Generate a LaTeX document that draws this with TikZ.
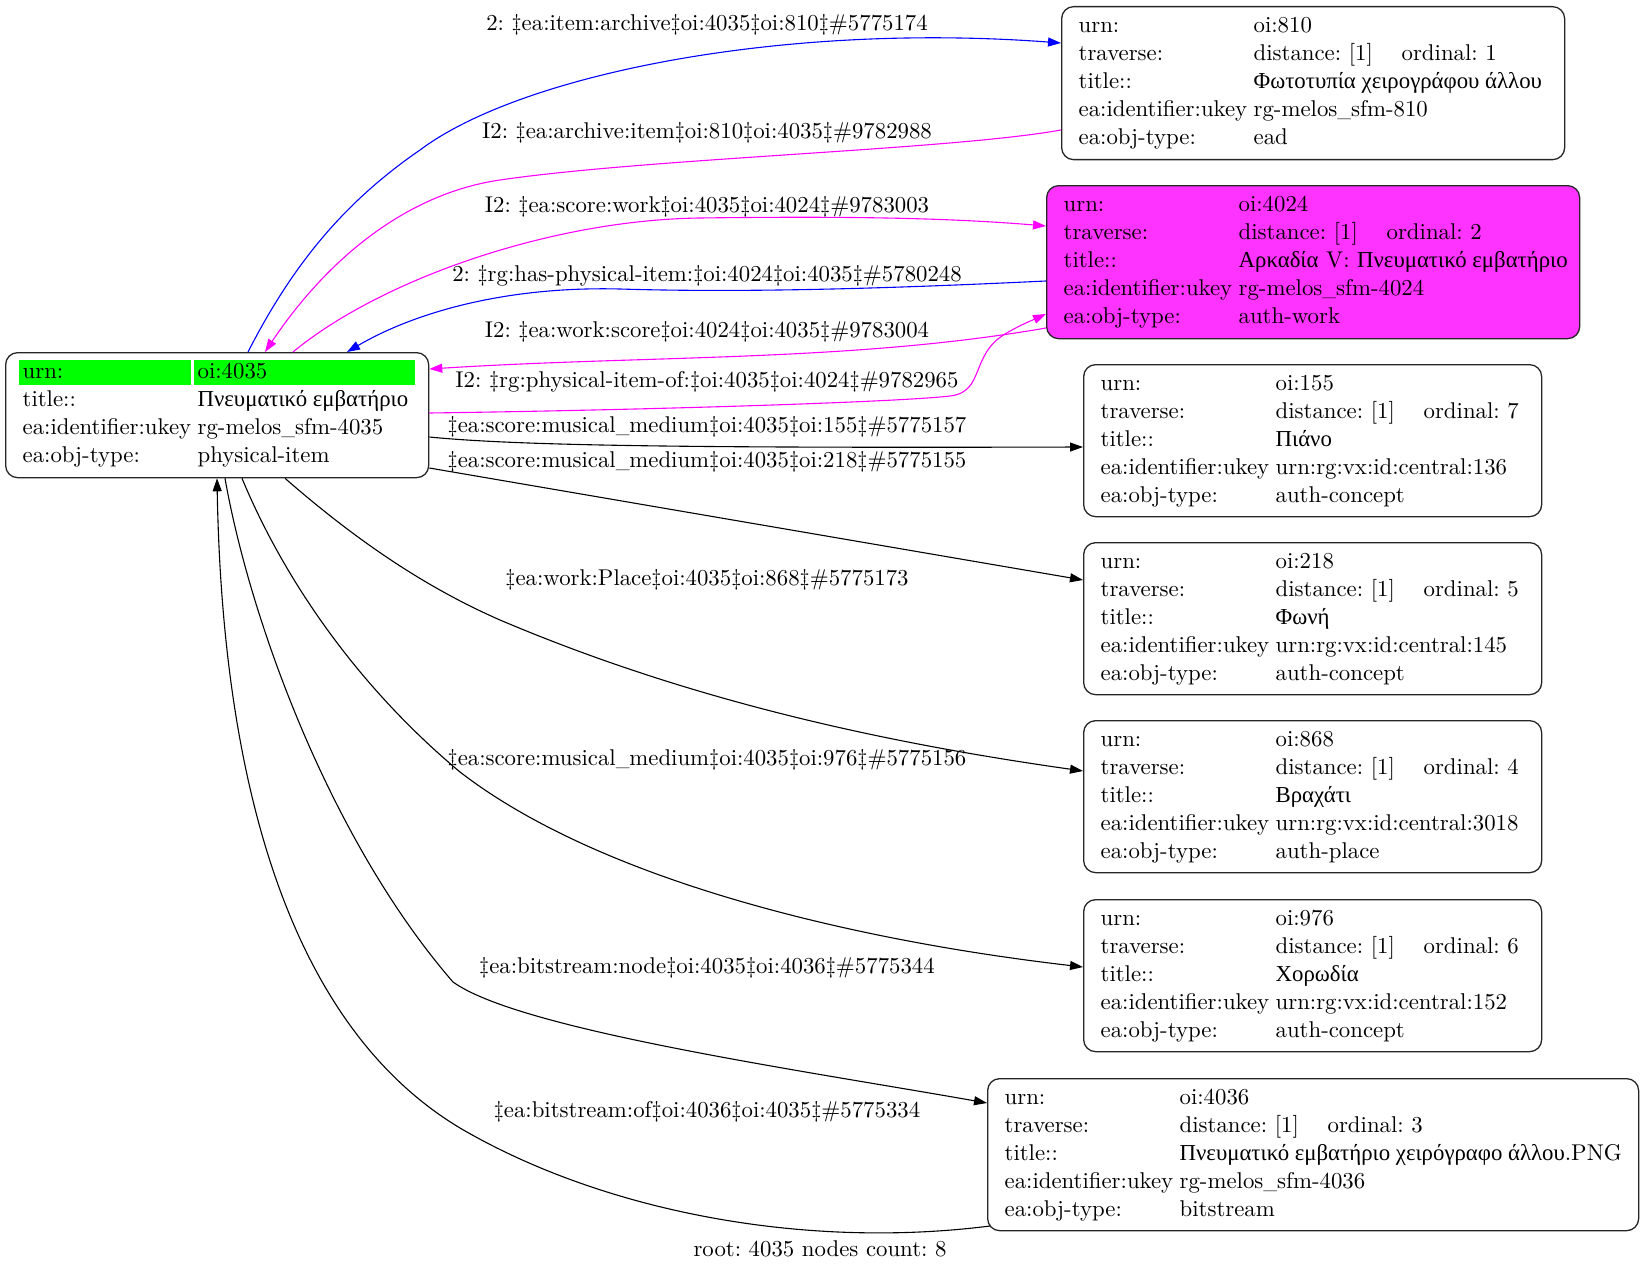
\documentclass[tikz,border=0pt]{standalone}
\usepackage{fontspec}
\usepackage{graphicx}
\setmainfont{lmroman10-regular}[Extension=.otf]
\newfontfamily\grfont{Liberation Serif}
\usetikzlibrary{arrows.meta}
\definecolor{mag}{RGB}{255,0,255}
\definecolor{magfill}{RGB}{255,51,255}
\definecolor{blu}{RGB}{0,0,255}
\definecolor{grn}{RGB}{0,255,0}
\newcommand\gr[1]{{\grfont #1}}
\newcommand\us{\scalebox{0.8}[1]{\_}}
\newcommand\kv[2]{\makebox[175pt][l]{#1}#2\\}
\newcommand\trav[1]{\makebox[175pt][l]{traverse:}\makebox[148pt][l]{distance: [1]}ordinal: #1\\}
\newcommand\dd{‡}
\tikzset{
  box/.style={draw=black!85, line width=1.3pt, rounded corners=12pt, inner sep=0pt, anchor=north west,
    font=\fontsize{22.8}{28}\selectfont\frenchspacing},
  elabel/.style={inner sep=0pt, font=\fontsize{22.8}{28}\selectfont\frenchspacing},
  conn/.style={line width=1.1pt, -{Triangle[length=13pt,width=9pt]}},
}
\begin{document}
\begin{tikzpicture}[x=1pt,y=-1pt]
\useasboundingbox (0,0) rectangle (1644,1271);
% highlight of the root's first row
\fill[grn] (19,360) rectangle (191,385);
\fill[grn] (194,360) rectangle (415,385);
% nodes
\node[box, minimum width=423pt, minimum height=125pt] (root) at (5,352)
 {\makebox[389pt][l]{\begin{tabular}{@{}l@{}}
 \kv{urn:}{oi:4035}
 \kv{title::}{\gr{Πνευματικό εμβατήριο}}
 \kv{ea:identifier:ukey}{rg-melos\us sfm-4035}
 \kv{ea:obj-type:}{physical-item}
 \end{tabular}}};
\node[box, minimum width=503pt, minimum height=153pt] (n810) at (1061,6)
 {\makebox[469pt][l]{\begin{tabular}{@{}l@{}}
 \kv{urn:}{oi:810}
 \trav{1}
 \kv{title::}{\gr{Φωτοτυπία χειρογράφου άλλου}}
 \kv{ea:identifier:ukey}{rg-melos\us sfm-810}
 \kv{ea:obj-type:}{ead}
 \end{tabular}}};
\node[box, fill=magfill, minimum width=533pt, minimum height=153pt] (n4024) at (1046,185)
 {\makebox[499pt][l]{\begin{tabular}{@{}l@{}}
 \kv{urn:}{oi:4024}
 \trav{2}
 \kv{title::}{\gr{Αρκαδία} V: \gr{Πνευματικό εμβατήριο}}
 \kv{ea:identifier:ukey}{rg-melos\us sfm-4024}
 \kv{ea:obj-type:}{auth-work}
 \end{tabular}}};
\node[box, minimum width=458pt, minimum height=152pt] (n155) at (1083,364)
 {\makebox[424pt][l]{\begin{tabular}{@{}l@{}}
 \kv{urn:}{oi:155}
 \trav{7}
 \kv{title::}{\gr{Πιάνο}}
 \kv{ea:identifier:ukey}{urn:rg:vx:id:central:136}
 \kv{ea:obj-type:}{auth-concept}
 \end{tabular}}};
\node[box, minimum width=458pt, minimum height=152pt] (n218) at (1083,542)
 {\makebox[424pt][l]{\begin{tabular}{@{}l@{}}
 \kv{urn:}{oi:218}
 \trav{5}
 \kv{title::}{\gr{Φωνή}}
 \kv{ea:identifier:ukey}{urn:rg:vx:id:central:145}
 \kv{ea:obj-type:}{auth-concept}
 \end{tabular}}};
\node[box, minimum width=458pt, minimum height=152pt] (n868) at (1083,720)
 {\makebox[424pt][l]{\begin{tabular}{@{}l@{}}
 \kv{urn:}{oi:868}
 \trav{4}
 \kv{title::}{\gr{Βραχάτι}}
 \kv{ea:identifier:ukey}{urn:rg:vx:id:central:3018}
 \kv{ea:obj-type:}{auth-place}
 \end{tabular}}};
\node[box, minimum width=458pt, minimum height=152pt] (n976) at (1083,899)
 {\makebox[424pt][l]{\begin{tabular}{@{}l@{}}
 \kv{urn:}{oi:976}
 \trav{6}
 \kv{title::}{\gr{Χορωδία}}
 \kv{ea:identifier:ukey}{urn:rg:vx:id:central:152}
 \kv{ea:obj-type:}{auth-concept}
 \end{tabular}}};
\node[box, minimum width=651pt, minimum height=152pt] (n4036) at (987,1078)
 {\makebox[617pt][l]{\begin{tabular}{@{}l@{}}
 \kv{urn:}{oi:4036}
 \trav{3}
 \kv{title::}{\gr{Πνευματικό εμβατήριο χειρόγραφο άλλου}.PNG}
 \kv{ea:identifier:ukey}{rg-melos\us sfm-4036}
 \kv{ea:obj-type:}{bitstream}
 \end{tabular}}};
% connectors
\draw[conn, blu] ([xshift=243pt]root.north west) .. controls (290,270) and (340,205) .. (420,150)
  .. controls (520,75) and (780,22) .. ([yshift=-37pt]n810.north west);
\draw[conn, mag] ([yshift=-124pt]n810.north west) .. controls (950,150) and (650,158) .. (500,180)
  .. controls (410,193) and (330,255) .. ([xshift=260pt]root.north west);
\draw[conn, mag] ([xshift=288pt]root.north west) .. controls (380,280) and (550,220) .. (700,218)
  .. controls (850,216) and (950,218) .. ([yshift=-41pt]n4024.north west);
\draw[conn, blu] ([yshift=-96pt]n4024.north west) .. controls (900,288) and (750,293) .. (620,289)
  .. controls (500,286) and (410,315) .. ([xshift=342pt]root.north west);
\draw[conn, mag] ([yshift=-143pt]n4024.north west) .. controls (850,362) and (650,355) .. ([yshift=-17pt]root.north east);
\draw[conn, mag] ([yshift=-61pt]root.north east) .. controls (650,410) and (900,402) .. (950,396)
  .. controls (985,392) and (970,355) .. (1005,334)
  .. controls (1020,325) and (1035,319) .. ([yshift=-129pt]n4024.north west);
\draw[conn] ([yshift=-85pt]root.north east) .. controls (520,446) and (700,448) .. ([yshift=-83pt]n155.north west);
\draw[conn] ([yshift=-116pt]root.north east) -- ([yshift=-38pt]n218.north west);
\draw[conn] ([xshift=280pt]root.south west) .. controls (350,535) and (420,585) .. (500,620)
  .. controls (700,705) and (900,745) .. ([yshift=-51pt]n868.north west);
\draw[conn] ([xshift=237pt]root.south west) .. controls (280,570) and (350,680) .. (460,772)
  .. controls (600,880) and (850,940) .. ([yshift=-68pt]n976.north west);
\draw[conn] ([xshift=220pt]root.south west) .. controls (250,620) and (330,840) .. (453,982)
  .. controls (520,1030) and (800,1070) .. ([yshift=-25pt]n4036.north west);
\draw[conn] ([xshift=3pt,yshift=-148pt]n4036.north west) .. controls (800,1250) and (600,1210) .. (460,1128)
  .. controls (280,1020) and (222,760) .. ([xshift=212pt]root.south west);
% labels
\node[elabel] (l1) at (707,25) {2: \dd ea:item:archive\dd oi:4035\dd oi:810\dd\#5775174};
\node[elabel] (l2) at (707,133) {I2: \dd ea:archive:item\dd oi:810\dd oi:4035\dd\#9782988};
\node[elabel] (l3) at (707,207) {I2: \dd ea:score:work\dd oi:4035\dd oi:4024\dd\#9783003};
\node[elabel] (l4) at (707,276) {2: \dd rg:has-physical-item:\dd oi:4024\dd oi:4035\dd\#5780248};
\node[elabel] (l5) at (707,332) {I2: \dd ea:work:score\dd oi:4024\dd oi:4035\dd\#9783004};
\node[elabel] (l6) at (707,382) {I2: \dd rg:physical-item-of:\dd oi:4035\dd oi:4024\dd\#9782965};
\node[elabel] (l7) at (707,427) {\dd ea:score:musical\us medium\dd oi:4035\dd oi:155\dd\#5775157};
\node[elabel] (l8) at (707,462) {\dd ea:score:musical\us medium\dd oi:4035\dd oi:218\dd\#5775155};
\node[elabel] (l9) at (707,580) {\dd ea:work:Place\dd oi:4035\dd oi:868\dd\#5775173};
\node[elabel] (l10) at (707,760) {\dd ea:score:musical\us medium\dd oi:4035\dd oi:976\dd\#5775156};
\node[elabel] (l11) at (707,968) {\dd ea:bitstream:node\dd oi:4035\dd oi:4036\dd\#5775344};
\node[elabel] (l12) at (707,1112) {\dd ea:bitstream:of\dd oi:4036\dd oi:4035\dd\#5775334};
\node[elabel] (foot) at (820,1249) {root: 4035 nodes count: 8};
\end{tikzpicture}
\end{document}
